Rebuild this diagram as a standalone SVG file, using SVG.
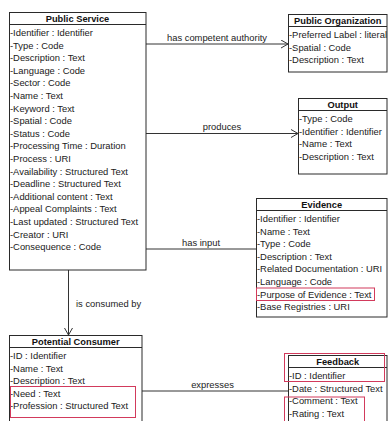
<svg xmlns="http://www.w3.org/2000/svg" width="388" height="421" viewBox="0 0 388 421">
<defs>
<style>
.box{fill:#fff;stroke:#2a2a2a;stroke-width:1}
.sep{stroke:#2a2a2a;stroke-width:1}
.title{font-family:"Liberation Sans",Arial,sans-serif;font-size:9.3px;font-weight:bold;fill:#111;text-anchor:middle}
.attr{font-family:"Liberation Sans",Arial,sans-serif;font-size:9.4px;fill:#1a1a1a}
.lbl{font-family:"Liberation Sans",Arial,sans-serif;font-size:9.4px;fill:#222}
.conn{fill:none;stroke:#333;stroke-width:1}
.hl{fill:none;stroke:#d23a5c;stroke-width:1}
</style>
<marker id="arr" markerUnits="userSpaceOnUse" markerWidth="9" markerHeight="10" refX="8" refY="4.5" orient="auto">
<path d="M1,0.5 L8,4.5 L1,8.5" fill="none" stroke="#333" stroke-width="1"/>
</marker>
</defs>
<rect width="388" height="421" fill="#fff"/>

<g id="connectors">
<path class="conn" d="M146 44 H288" marker-end="url(#arr)"/>
<text class="lbl" x="217" y="40.5" text-anchor="middle">has competent authority</text>
<path class="conn" d="M146 133.5 H298" marker-end="url(#arr)"/>
<text class="lbl" x="222" y="130" text-anchor="middle">produces</text>
<path class="conn" d="M146 249 H256"/>
<text class="lbl" x="201" y="245.5" text-anchor="middle">has input</text>
<path class="conn" d="M68.5 270 V335" marker-end="url(#arr)"/>
<text class="lbl" x="76" y="306.5">is consumed by</text>
<path class="conn" d="M142 391 H288"/>
<text class="lbl" x="212.5" y="387.5" text-anchor="middle">expresses</text>
</g>

<g id="public-service">
<rect class="box" x="9.5" y="12.5" width="136.5" height="257.5"/>
<line class="sep" x1="9.5" y1="24.5" x2="146" y2="24.5"/>
<text class="title" x="77.5" y="21.8">Public Service</text>
<text class="attr">
<tspan x="10" y="36">-Identifier : Identifier</tspan>
<tspan x="10" y="48.6">-Type : Code</tspan>
<tspan x="10" y="61.2">-Description : Text</tspan>
<tspan x="10" y="73.8">-Language : Code</tspan>
<tspan x="10" y="86.4">-Sector : Code</tspan>
<tspan x="10" y="99">-Name : Text</tspan>
<tspan x="10" y="111.6">-Keyword : Text</tspan>
<tspan x="10" y="124.2">-Spatial : Code</tspan>
<tspan x="10" y="136.8">-Status : Code</tspan>
<tspan x="10" y="149.4">-Processing Time : Duration</tspan>
<tspan x="10" y="162">-Process : URI</tspan>
<tspan x="10" y="174.6">-Availability : Structured Text</tspan>
<tspan x="10" y="187.2">-Deadline : Structured Text</tspan>
<tspan x="10" y="199.8">-Additional content : Text</tspan>
<tspan x="10" y="212.4">-Appeal Complaints : Text</tspan>
<tspan x="10" y="225">-Last updated : Structured Text</tspan>
<tspan x="10" y="237.6">-Creator : URI</tspan>
<tspan x="10" y="250.2">-Consequence : Code</tspan>
</text>
</g>

<g id="public-organization">
<rect class="box" x="288.5" y="14.5" width="98.5" height="57.5"/>
<line class="sep" x1="288.5" y1="26.5" x2="387" y2="26.5"/>
<text class="title" x="337.7" y="23.8">Public Organization</text>
<text class="attr">
<tspan x="289" y="38">-Preferred Label : literal</tspan>
<tspan x="289" y="50.6">-Spatial : Code</tspan>
<tspan x="289" y="63.2">-Description : Text</tspan>
</text>
</g>

<g id="output">
<rect class="box" x="298.5" y="98.5" width="88.5" height="75.5"/>
<line class="sep" x1="298.5" y1="110.5" x2="387" y2="110.5"/>
<text class="title" x="342.7" y="107.8">Output</text>
<text class="attr">
<tspan x="299" y="122">-Type : Code</tspan>
<tspan x="299" y="134.6">-Identifier : Identifier</tspan>
<tspan x="299" y="147.2">-Name : Text</tspan>
<tspan x="299" y="159.8">-Description : Text</tspan>
</text>
</g>

<g id="evidence">
<rect class="box" x="256.5" y="198.5" width="130.5" height="118.5"/>
<line class="sep" x1="256.5" y1="210.5" x2="387" y2="210.5"/>
<text class="title" x="321.7" y="207.8">Evidence</text>
<text class="attr">
<tspan x="257" y="222">-Identifier : Identifier</tspan>
<tspan x="257" y="234.6">-Name : Text</tspan>
<tspan x="257" y="247.2">-Type : Code</tspan>
<tspan x="257" y="259.8">-Description : Text</tspan>
<tspan x="257" y="272.4">-Related Documentation : URI</tspan>
<tspan x="257" y="285">-Language : Code</tspan>
<tspan x="257" y="297.6">-Purpose of Evidence : Text</tspan>
<tspan x="257" y="310.2">-Base Registries : URI</tspan>
</text>
<rect class="hl" x="256.5" y="288" width="118" height="12.5"/>
</g>

<g id="potential-consumer">
<rect class="box" x="9.5" y="335.5" width="132.5" height="100"/>
<line class="sep" x1="9.5" y1="347.5" x2="142" y2="347.5"/>
<text class="title" x="75.7" y="344.8">Potential Consumer</text>
<text class="attr">
<tspan x="10" y="359">-ID : Identifier</tspan>
<tspan x="10" y="371.6">-Name : Text</tspan>
<tspan x="10" y="384.2">-Description : Text</tspan>
<tspan x="10" y="396.8">-Need : Text</tspan>
<tspan x="10" y="409.4">-Profession : Structured Text</tspan>
</text>
<rect class="hl" x="10.5" y="386.5" width="125" height="31"/>
</g>

<g id="feedback">
<rect class="box" x="288.5" y="355.5" width="98.5" height="100"/>
<line class="sep" x1="288.5" y1="367.5" x2="387" y2="367.5"/>
<text class="title" x="337.7" y="364.8">Feedback</text>
<text class="attr">
<tspan x="289" y="379">-ID : Identifier</tspan>
<tspan x="289" y="391.6">-Date : Structured Text</tspan>
<tspan x="289" y="404.2">-Comment : Text</tspan>
<tspan x="289" y="416.8">-Rating : Text</tspan>
</text>
<rect class="hl" x="284.5" y="353.5" width="100" height="28"/>
<rect class="hl" x="284.5" y="397" width="80" height="28"/>
</g>
</svg>
